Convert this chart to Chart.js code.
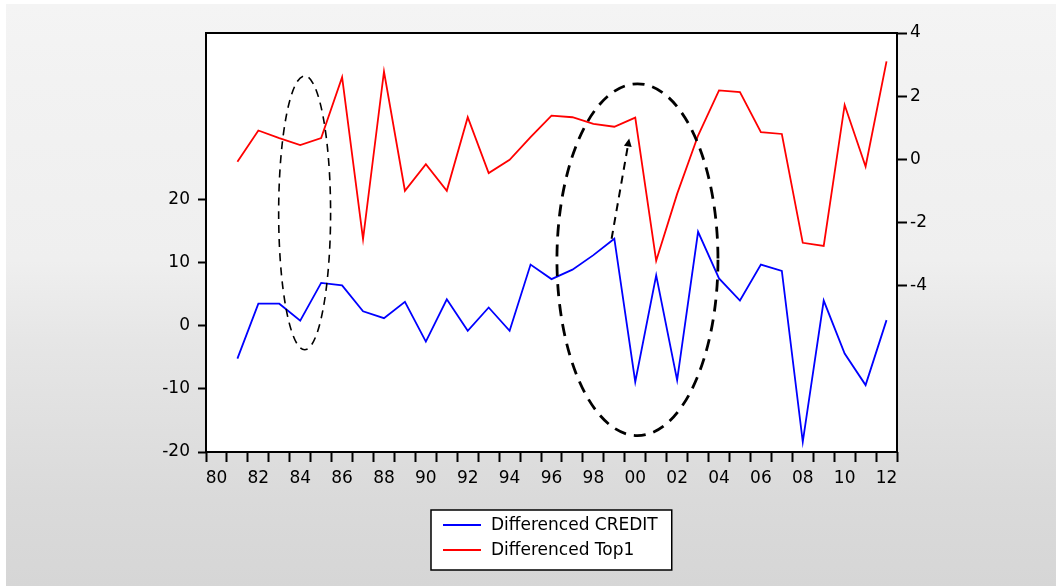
<!DOCTYPE html>
<html>
<head>
<meta charset="utf-8">
<script src="https://cdn.jsdelivr.net/npm/chart.js@4.4.1/dist/chart.umd.min.js"></script>
<style>
  html, body { margin: 0; padding: 0; background: #fff; }
  #wrap {
    width: 1056px; height: 586px;
    background-image:
      linear-gradient(to right, #fff 0px, #fff 6px, transparent 6px),
      linear-gradient(to bottom, #fff 0px, #fff 4px, #f4f4f4 4px, #f2f2f2 80px, #efefef 260px, #e6e6e6 340px, #e0e0e0 420px, #dadada 500px, #d6d6d6 586px);
  }
</style>
</head>
<body>
<div id="wrap"><canvas id="myChart" width="1056" height="586"></canvas></div>
<script>
// years 1980..2012, shown as two digits
let anni = ["80", "81", "82", "83", "84", "85", "86", "87", "88", "89",
  "90", "91", "92", "93", "94", "95", "96", "97", "98", "99",
  "00", "01", "02", "03", "04", "05", "06", "07", "08", "09",
  "10", "11", "12"];

// differenced series (first year is lost by differencing)
let credit = [null, -5.2, 3.5, 3.5, 0.8, 6.8, 6.4, 2.3, 1.2, 3.8,
  -2.5, 4.2, -0.8, 2.9, -0.8, 9.7, 7.4, 8.9, 11.2, 13.8,
  -8.9, 8.0, -8.6, 14.9, 7.5, 4.0, 9.7, 8.7, -18.4, 4.0,
  -4.4, -9.4, 0.9];
let top1 = [null, -0.08, 0.91, 0.67, 0.45, 0.67, 2.6, -2.53, 2.78, -1.0,
  -0.16, -1.0, 1.33, -0.44, -0.02, 0.7, 1.38, 1.33, 1.12, 1.03,
  1.32, -3.22, -1.1, 0.75, 2.18, 2.13, 0.86, 0.8, -2.65, -2.75,
  1.72, -0.23, 3.1];

let tickSinistra = [-20, -10, 0, 10, 20];
let tickDestra = [-4, -2, 0, 2, 4];

// hand-drawn marks, in data units (category index, left axis value)
let ellissi = [
  { x0: 2.97, x1: 5.45, y0: -3.8, y1: 39.6, spessore: 1.6, tratto: [8, 6] },
  { x0: 16.26, x1: 23.95, y0: -17.4, y1: 38.35, spessore: 2.8, tratto: [12, 8] },
];
let freccia = { da: [18.87, 13.8], a: [19.71, 29.7] };

let font = { family: "DejaVu Sans", size: 17 };

let cornice = {
  id: "cornice",
  beforeDraw(chart) {
    let ctx = chart.ctx;
    let a = chart.chartArea;
    ctx.save();
    ctx.fillStyle = "#ffffff";
    ctx.fillRect(a.left, a.top, a.right - a.left, a.bottom - a.top);
    ctx.restore();
  },
  afterDatasetsDraw(chart) {
    let ctx = chart.ctx;
    let sx = chart.scales.x;
    let sy = chart.scales.y;
    ctx.save();
    ctx.strokeStyle = "#000";
    ellissi.forEach(function (e) {
      let l = sx.getPixelForValue(e.x0);
      let r = sx.getPixelForValue(e.x1);
      let t = sy.getPixelForValue(e.y1);
      let b = sy.getPixelForValue(e.y0);
      ctx.lineWidth = e.spessore;
      ctx.setLineDash(e.tratto);
      ctx.beginPath();
      ctx.ellipse((l + r) / 2, (t + b) / 2, (r - l) / 2, (b - t) / 2, 0, 0, Math.PI * 2);
      ctx.stroke();
    });
    // arrow
    let x0 = sx.getPixelForValue(freccia.da[0]);
    let y0 = sy.getPixelForValue(freccia.da[1]);
    let x1 = sx.getPixelForValue(freccia.a[0]);
    let y1 = sy.getPixelForValue(freccia.a[1]);
    let ang = Math.atan2(y1 - y0, x1 - x0);
    ctx.lineWidth = 2;
    ctx.setLineDash([8, 6]);
    ctx.beginPath();
    ctx.moveTo(x0, y0);
    ctx.lineTo(x1 - Math.cos(ang) * 6, y1 - Math.sin(ang) * 6);
    ctx.stroke();
    ctx.setLineDash([]);
    ctx.fillStyle = "#000";
    ctx.beginPath();
    ctx.moveTo(x1, y1);
    ctx.lineTo(x1 - Math.cos(ang - 0.45) * 9, y1 - Math.sin(ang - 0.45) * 9);
    ctx.lineTo(x1 - Math.cos(ang + 0.45) * 9, y1 - Math.sin(ang + 0.45) * 9);
    ctx.closePath();
    ctx.fill();
    ctx.restore();
  },
  afterDraw(chart) {
    let ctx = chart.ctx;
    let a = chart.chartArea;
    ctx.save();
    ctx.strokeStyle = "#000";
    ctx.lineWidth = 2;
    ctx.strokeRect(a.left, a.top, a.right - a.left, a.bottom - a.top);

    // legend box under the plot
    ctx.font = font.size + "px " + font.family;
    let larghezze = chart.data.datasets.map(d => ctx.measureText(d.label).width);
    let w = 12 + 38 + 10 + Math.max(...larghezze) + 14;
    let h = 60;
    let bx = Math.round((a.left + a.right) / 2 - w / 2);
    let by = 510;
    ctx.fillStyle = "#fff";
    ctx.fillRect(bx, by, w, h);
    ctx.lineWidth = 1.5;
    ctx.strokeRect(bx, by, w, h);
    chart.data.datasets.forEach(function (d, i) {
      let y = by + 15 + i * 25;
      ctx.strokeStyle = d.borderColor;
      ctx.lineWidth = 2;
      ctx.beginPath();
      ctx.moveTo(bx + 12, y);
      ctx.lineTo(bx + 50, y);
      ctx.stroke();
      ctx.fillStyle = "#000";
      ctx.textBaseline = "middle";
      ctx.fillText(d.label, bx + 60, y + 1);
    });
    ctx.restore();
  },
};

let ctx = document.getElementById("myChart").getContext("2d");
let chart = new Chart(ctx, {
  type: "line",
  data: {
    labels: anni,
    datasets: [
      {
        label: "Differenced CREDIT",
        data: credit,
        borderColor: "#0000ff",
        backgroundColor: "#0000ff",
        borderWidth: 1.8,
        pointRadius: 0,
        tension: 0,
        yAxisID: "y",
      },
      {
        label: "Differenced Top1",
        data: top1,
        borderColor: "#ff0000",
        backgroundColor: "#ff0000",
        borderWidth: 1.8,
        pointRadius: 0,
        tension: 0,
        yAxisID: "y1",
      },
    ],
  },
  options: {
    responsive: false,
    animation: false,
    layout: { padding: { top: 33, left: 0, right: 0, bottom: 0 } },
    plugins: {
      legend: { display: false },
      tooltip: { enabled: false },
    },
    scales: {
      x: {
        type: "category",
        offset: true,
        grid: { offset: true, drawOnChartArea: false, tickLength: 10, tickColor: "#000", tickWidth: 2 },
        border: { display: false },
        ticks: {
          autoSkip: false,
          maxRotation: 0,
          color: "#000",
          font: font,
          padding: 6,
          callback: function (v, i) {
            return i % 2 === 0 ? this.getLabelForValue(v) : "";
          },
        },
        afterFit: function (s) {
          s.height = 586 - 452;
        },
      },
      y: {
        position: "left",
        min: -20,
        max: 46.4,
        afterBuildTicks: function (s) {
          s.ticks = tickSinistra.map(v => ({ value: v }));
        },
        grid: { drawOnChartArea: false, tickLength: 8, tickColor: "#000", tickWidth: 2 },
        border: { display: false },
        ticks: { color: "#000", font: font, padding: 8 },
        afterFit: function (s) {
          s.width = 206;
        },
      },
      y1: {
        position: "right",
        min: -9.28,
        max: 4,
        afterBuildTicks: function (s) {
          s.ticks = tickDestra.map(v => ({ value: v }));
        },
        grid: { drawOnChartArea: false, tickLength: 10, tickColor: "#000", tickWidth: 2 },
        border: { display: false },
        ticks: { color: "#000", font: font, padding: 3 },
        afterFit: function (s) {
          s.width = 1056 - 897;
        },
      },
    },
  },
  plugins: [cornice],
});
</script>
</body>
</html>
